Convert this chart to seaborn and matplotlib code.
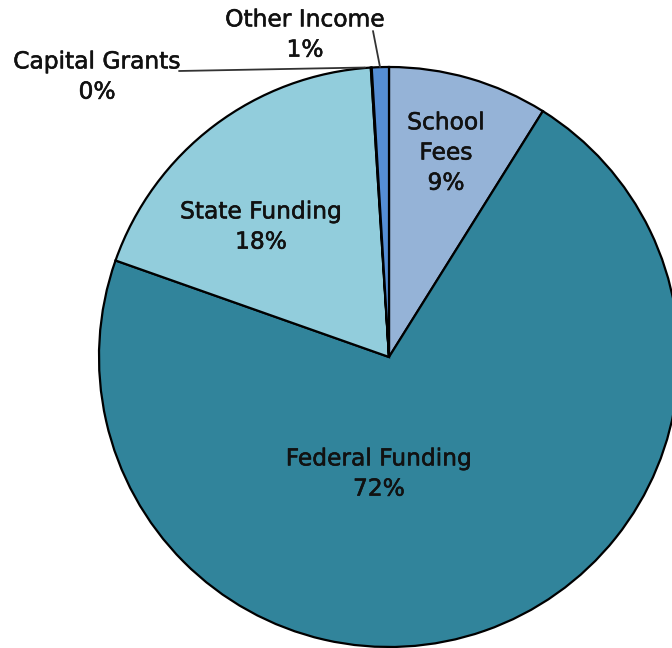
import matplotlib
matplotlib.use("Agg")
import matplotlib.pyplot as plt
import matplotlib.patheffects as pe
import seaborn as sns

# --------------------- Data ---------------------
sources = ["School Fees", "Federal Funding", "State Funding", "Capital Grants", "Other Income"]
shares = [8.9, 71.5, 18.6, 0.05, 0.95]
pct_labels = ["9%", "72%", "18%", "0%", "1%"]
colors = ["#95B3D7", "#31849B", "#92CDDC", "#4F81BD", "#558ED5"]

sns.set_theme(style="white")
plt.rcParams['font.family'] = ['DejaVu Sans']

fig = plt.figure(figsize=(6.72, 6.48), dpi=100)
ax = fig.add_axes([0, 0, 1, 1])

wedges, _ = ax.pie(shares, colors=sns.color_palette(colors), startangle=90,
                   counterclock=False, radius=1.0, center=(0, 0),
                   wedgeprops=dict(edgecolor="black", linewidth=1.6))

# pixel -> data: center at (389, 357), radius 290 px
ax.set_xlim(-389 / 290, (672 - 389) / 290)
ax.set_ylim((357 - 648) / 290, 357 / 290)
ax.set_aspect("auto")
ax.axis("off")


def px(x, y):
    return (x - 389) / 290, (357 - y) / 290


text_kw = dict(fontsize=16.8, ha="center", va="center", color="#111111", linespacing=1.4,
               path_effects=[pe.withStroke(linewidth=0.4, foreground="#111111")])

# labels inside the big slices
ax.text(*px(446, 153), "School\nFees\n" + pct_labels[0], **text_kw)
ax.text(*px(379, 474), "Federal Funding\n" + pct_labels[1], **text_kw)
ax.text(*px(261, 227), "State Funding\n" + pct_labels[2], **text_kw)

# small slices with leader lines
ax.text(*px(97, 77), "Capital Grants\n" + pct_labels[3], **text_kw)
ax.plot(*zip(px(179, 71), px(365, 67.5)), color="#333333", linewidth=1.3)

ax.text(*px(305, 35), "Other Income\n" + pct_labels[4], **text_kw)
ax.plot(*zip(px(373, 31), px(380, 67)), color="#333333", linewidth=1.3)

plt.savefig("out.png", dpi=100)
